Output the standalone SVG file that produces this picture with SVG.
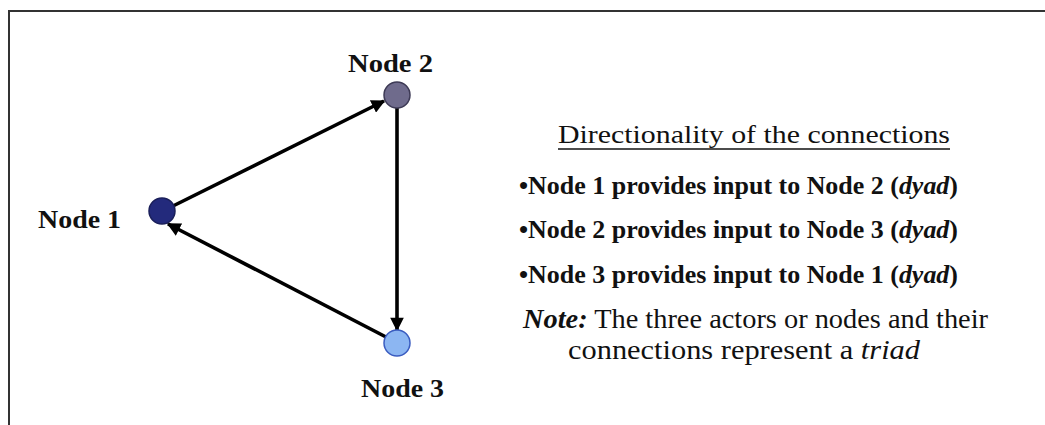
<svg xmlns="http://www.w3.org/2000/svg" width="1045" height="425" viewBox="0 0 1045 425">
  <defs>
    <marker id="arrow" viewBox="0 0 10 10" refX="9" refY="5" markerWidth="4" markerHeight="3.8" markerUnits="strokeWidth" orient="auto">
      <path d="M0,0 L10,5 L0,10 z" fill="#000"/>
    </marker>
    <style>
      .frame { fill: none; stroke: #333; stroke-width: 2; }
      .edge { fill: none; stroke: #000; stroke-width: 3.6; marker-end: url(#arrow); }
      .label { font-family: "Liberation Serif", "Times New Roman", serif; font-weight: bold; font-size: 26px; fill: #111; }
      .title { font-family: "Liberation Serif", "Times New Roman", serif; font-size: 26px; fill: #111; }
      .item { font-family: "Liberation Serif", "Times New Roman", serif; font-weight: bold; font-size: 26px; fill: #111; }
      .note { font-family: "Liberation Serif", "Times New Roman", serif; font-size: 27px; fill: #111; }
      .it { font-style: italic; }
    </style>
  </defs>

  <rect width="1045" height="425" fill="#fff"/>

  <!-- outer frame: top and left rules -->
  <path class="frame" d="M9,425 L9,11 L1045,11"/>

  <!-- directed edges -->
  <g id="connectors">
    <line class="edge" x1="173" y1="206" x2="384" y2="101"/>
    <line class="edge" x1="397" y1="108" x2="397" y2="330"/>
    <line class="edge" x1="386" y1="337" x2="168" y2="224"/>
  </g>

  <g id="node1">
    <circle cx="162" cy="211" r="13" fill="#232a7c" stroke="#1a1f5a" stroke-width="1.5"/>
    <text class="label" x="38" y="228" textLength="83" lengthAdjust="spacingAndGlyphs">Node 1</text>
  </g>

  <g id="node2">
    <circle cx="397" cy="95" r="13" fill="#6f6b8c" stroke="#3d3a55" stroke-width="1.5"/>
    <text class="label" x="348" y="72" textLength="85" lengthAdjust="spacingAndGlyphs">Node 2</text>
  </g>

  <g id="node3">
    <circle cx="397" cy="343" r="13" fill="#8cb6f2" stroke="#3a5cc0" stroke-width="1.5"/>
    <text class="label" x="361" y="397" textLength="83" lengthAdjust="spacingAndGlyphs">Node 3</text>
  </g>

  <!-- legend text -->
  <g id="legend">
    <text class="title" x="558" y="143" textLength="392" lengthAdjust="spacingAndGlyphs">Directionality of the connections</text>
    <line x1="558" y1="149" x2="950" y2="149" stroke="#111" stroke-width="1.5"/>
    <text class="item" x="519" y="194" textLength="439" lengthAdjust="spacingAndGlyphs">•Node 1 provides input to Node 2 (<tspan class="it">dyad</tspan>)</text>
    <text class="item" x="519" y="238" textLength="439" lengthAdjust="spacingAndGlyphs">•Node 2 provides input to Node 3 (<tspan class="it">dyad</tspan>)</text>
    <text class="item" x="519" y="283" textLength="439" lengthAdjust="spacingAndGlyphs">•Node 3 provides input to Node 1 (<tspan class="it">dyad</tspan>)</text>
    <text class="note" x="523" y="328" textLength="465" lengthAdjust="spacingAndGlyphs"><tspan class="it" font-weight="bold">Note:</tspan> The three actors or nodes and their</text>
    <text class="note" x="568" y="359" textLength="352" lengthAdjust="spacingAndGlyphs">connections represent a <tspan class="it">triad</tspan></text>
  </g>
</svg>
